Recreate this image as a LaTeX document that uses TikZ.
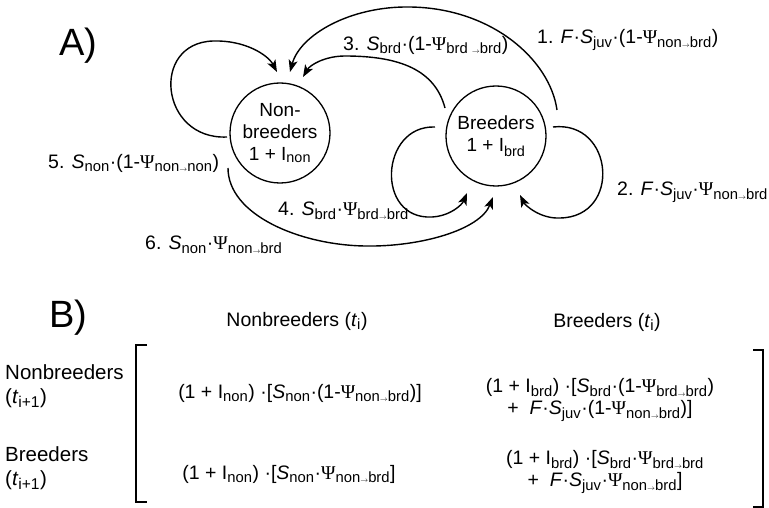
\documentclass[tikz,border=0pt]{standalone}
\usepackage{fontspec}
\setmainfont{Liberation Sans}
\newfontfamily\psifont{Liberation Serif}
\renewcommand{\defaultscriptratio}{0.76}
\usepackage{tikz}
\usetikzlibrary{arrows.meta,calc}

\newcommand{\Ps}{{\psifont Ψ}}
\newcommand{\tto}{$\scriptscriptstyle\rightarrow$}
\newcommand{\Sx}[1]{\textit{S}\textsubscript{#1}}
\newcommand{\Px}[1]{\Ps\textsubscript{#1}}
\newcommand{\Ix}[1]{I\textsubscript{#1}}
\newcommand{\tx}[1]{(\textit{t}\textsubscript{#1})}

\tikzset{
	state/.style={circle, draw, line width=1.3pt, minimum size=100pt, inner sep=0pt, align=center, font=\fontsize{19}{22}\selectfont},
	lbl/.style={inner sep=0pt, anchor=west, font=\fontsize{19.5}{22}\selectfont},
	cell/.style={align=center, font=\fontsize{19.5}{22}\selectfont},
	arr/.style={-{Stealth[length=12pt,width=9pt,inset=3pt]}, line width=1.4pt},
	brk/.style={line width=2.2pt}
}

\begin{document}
\begin{tikzpicture}[x=1pt,y=-1pt]
	\useasboundingbox (0,0) rectangle (769,508);
	\node[font=\fontsize{38}{40}\selectfont] (partA) at (78,46) {A)};
	\node[state] (non) at (280,133) {Non-\\breeders\\1 + \Ix{non}};
	\node[state] (brd) at (496,136) {Breeders\\1 + \Ix{brd}};
	\draw[arr] ($(brd)+(61,-26)$) .. controls (550,60) and (492,8) .. (410,7) .. controls (350,6) and (300,35) .. ($(non)+(10,-61)$);
	\draw[arr] ($(brd)+(57,-9)$) .. controls (614,120) and (622,217) .. (560,218) .. controls (540,219) and (525,205) .. ($(brd)+(24,59)$);
	\draw[arr] ($(brd)+(-51,-28)$) .. controls (435,70) and (400,56) .. (345,56) .. controls (325,56) and (310,65) .. ($(non)+(23,-56)$);
	\draw[arr] ($(brd)+(-61,-9)$) .. controls (380,125) and (375,220) .. (432,217) .. controls (450,216) and (462,205) .. ($(brd)+(-29,57)$);
	\draw[arr] ($(non)+(-53,4)$) .. controls (160,140) and (150,43) .. (213,41) .. controls (245,40) and (268,55) .. ($(non)+(-3,-61)$);
	\draw[arr] ($(non)+(-52,35)$) .. controls (228,215) and (300,245) .. (365,246) .. controls (420,247) and (480,230) .. ($(brd)+(-3,61)$);
	\node[lbl] (lab1) at (537,40) {1. \textit{F}·\Sx{juv}·(1-\Px{non\tto brd})};
	\node[lbl] (lab2) at (617,192) {2. \textit{F}·\Sx{juv}·\Px{non\tto brd}};
	\node[lbl] (lab3) at (343,45) {3. \Sx{brd}·(1-\Px{brd \tto brd})};
	\node[lbl] (lab4) at (278,211) {4. \Sx{brd}·\Px{brd\tto brd}};
	\node[lbl] (lab5) at (48,163) {5. \Sx{non}·(1-\Px{non\tto non})};
	\node[lbl] (lab6) at (145,245) {6. \Sx{non}·\Px{non\tto brd}};

	\node[font=\fontsize{38}{40}\selectfont] (partB) at (68,318) {B)};
	\node[font=\fontsize{19.5}{22}\selectfont] (colnon) at (297,321) {Nonbreeders \tx{i}};
	\node[font=\fontsize{19.5}{22}\selectfont] (colbrd) at (607,322) {Breeders \tx{i}};
	\node[font=\fontsize{20.5}{24}\selectfont, align=left, anchor=west, inner sep=0pt] (rownon) at (5,386) {Nonbreeders\\\tx{i+1}};
	\node[font=\fontsize{20.5}{24}\selectfont, align=left, anchor=west, inner sep=0pt] (rowbrd) at (5,468) {Breeders\\\tx{i+1}};
	\draw[brk] (147,345) -- (136,345) -- (136,502) -- (147,502);
	\draw[brk] (753,350) -- (763,350) -- (763,507) -- (753,507);
	\node[cell] (m11) at (300,393) {(1 + \Ix{non}) ·[\Sx{non}·(1-\Px{non\tto brd})]};
	\node[cell] (m12) at (600,400) {(1 + \Ix{brd}) ·[\Sx{brd}·(1-\Px{brd\tto brd})\\+\ \ \textit{F}·\Sx{juv}·(1-\Px{non\tto brd})]};
	\node[cell] (m21) at (289,474) {(1 + \Ix{non}) ·[\Sx{non}·\Px{non\tto brd}]};
	\node[cell] (m22) at (605,472) {(1 + \Ix{brd}) ·[\Sx{brd}·\Px{brd\tto brd}\\+\ \ \textit{F}·\Sx{juv}·\Px{non\tto brd}]};
\end{tikzpicture}
\end{document}
